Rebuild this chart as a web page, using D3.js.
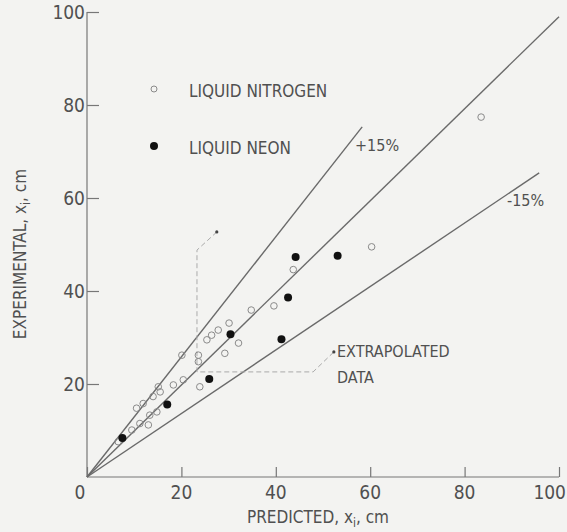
<!DOCTYPE html>
<html>
<head>
<meta charset="utf-8">
<script src="https://d3js.org/d3.v7.min.js"></script>
<style>
  body { margin: 0; background: #f3f3f1; }
  svg { display: block; background: #f3f3f1; }
  text { font-family: "DejaVu Sans Condensed", "Liberation Sans Narrow", sans-serif; fill: #505050; }
  .axis path, .axis line { stroke: #777; stroke-width: 1.2; }
  .ref { stroke: #6a6a6a; stroke-width: 1.4; fill: none; }
  .extra { stroke: #aaa; stroke-width: 1; stroke-dasharray: 5 3; fill: none; }
</style>
</head>
<body>
<div id="chart"></div>
<script>
var W = 567, H = 532;

// tick values on both axes
var xTicks = [0, 20, 40, 60, 80, 100];
var yTicks = [20, 40, 60, 80, 100];

// liquid nitrogen (open circles): [predicted, experimental]
var nitrogen = [
  [6.6, 7.6], [9.5, 10.1], [11.2, 11.5], [13, 11.2], [13.3, 13.3], [14.8, 14],
  [10.5, 14.8], [11.9, 15.8], [14, 17.3], [15.5, 18.3], [15.1, 19.4], [18.3, 19.8],
  [20.4, 20.9], [20.1, 26.2], [23.9, 19.4], [23.6, 24.8], [23.6, 26.2], [25.4, 29.5],
  [26.4, 30.5], [27.8, 31.6], [30.1, 33.1], [29.2, 26.6], [32.1, 28.8], [34.8, 35.9],
  [39.6, 36.8], [43.7, 44.6], [60.3, 49.5], [83.5, 77.4]
];

// liquid neon (filled circles)
var neon = [
  [7.5, 8.4], [17, 15.6], [25.9, 21.1], [30.4, 30.7], [41.2, 29.6],
  [42.6, 38.6], [44.2, 47.3], [53.1, 47.6]
];

// reference lines (end points)
var lineCenter = [[0, 0], [100, 99]];
var linePlus = [[0, 0], [58.3, 75.3]];
var lineMinus = [[0, 0], [95.8, 65.4]];

// extrapolated data marker (dashed outline)
var extrapBox = [[27.5, 52.7], [23.3, 48.8], [23.3, 22.6], [47.9, 22.6], [52.3, 26.9]];

var x = d3.scaleLinear().domain([0, 100]).range([87, 559]);
var y = d3.scaleLinear().domain([0, 100]).range([477, 12]);

var svg = d3.select('#chart').append('svg')
    .attr('width', W)
    .attr('height', H);

// axes, ticks pointing inward
svg.append('g')
    .attr('class', 'axis')
    .attr('transform', 'translate(0,' + y(0) + ')')
    .call(d3.axisTop(x).tickValues(xTicks).tickSize(10).tickFormat(''))
    .call(function(g) { g.select('.domain').attr('d', 'M' + x(0) + ',0H' + x(100)); });

svg.append('g')
    .attr('class', 'axis')
    .attr('transform', 'translate(' + x(0) + ',0)')
    .call(d3.axisRight(y).tickValues(yTicks).tickSize(12).tickFormat(''))
    .call(function(g) { g.select('.domain').attr('d', 'M0,' + y(0) + 'V' + y(100)); });

// tick labels
svg.selectAll('text.xt')
    .data(xTicks)
    .enter().append('text')
    .attr('class', 'xt')
    .attr('x', function(d) {
        if (d === 0) return x(0) - 7;
        if (d === 100) return W - 1;
        return x(d);
    })
    .attr('y', y(0) + 22)
    .attr('text-anchor', function(d) { return d === 100 ? 'end' : 'middle'; })
    .attr('font-size', 19)
    .text(function(d) { return d; });

svg.selectAll('text.yt')
    .data(yTicks)
    .enter().append('text')
    .attr('class', 'yt')
    .attr('x', x(0) - 2)
    .attr('y', function(d) { return y(d) + 7; })
    .attr('text-anchor', 'end')
    .attr('font-size', 19)
    .text(function(d) { return d; });

// axis titles
var xt = svg.append('text')
    .attr('x', 318)
    .attr('y', 523)
    .attr('text-anchor', 'middle')
    .attr('font-size', 17);
xt.append('tspan').text('PREDICTED, x');
xt.append('tspan').attr('font-size', 12).attr('dy', 4).text('i');
xt.append('tspan').attr('dy', -4).text(', cm');

var yt = svg.append('text')
    .attr('transform', 'translate(26,254) rotate(-90)')
    .attr('text-anchor', 'middle')
    .attr('font-size', 17);
yt.append('tspan').text('EXPERIMENTAL, x');
yt.append('tspan').attr('font-size', 12).attr('dy', 4).text('i');
yt.append('tspan').attr('dy', -4).text(', cm');

// reference lines
var line = d3.line().x(function(d) { return x(d[0]); }).y(function(d) { return y(d[1]); });
[lineCenter, linePlus, lineMinus].forEach(function(l) {
    svg.append('path').attr('class', 'ref').attr('d', line(l));
});

svg.append('text').attr('x', 355).attr('y', 151).attr('font-size', 16).text('+15%');
svg.append('text').attr('x', 507).attr('y', 206).attr('font-size', 16).text('-15%');

// extrapolated data outline
svg.append('path').attr('class', 'extra').attr('d', line(extrapBox));
[extrapBox[0], extrapBox[extrapBox.length - 1]].forEach(function(p) {
    svg.append('circle').attr('cx', x(p[0])).attr('cy', y(p[1])).attr('r', 1.6).attr('fill', '#444');
});
svg.append('text').attr('x', 337).attr('y', 357).attr('font-size', 16).text('EXTRAPOLATED');
svg.append('text').attr('x', 337).attr('y', 383).attr('font-size', 16).text('DATA');

// points
svg.selectAll('circle.n2')
    .data(nitrogen)
    .enter().append('circle')
    .attr('class', 'n2')
    .attr('cx', function(d) { return x(d[0]); })
    .attr('cy', function(d) { return y(d[1]); })
    .attr('r', 3.3)
    .attr('fill', 'none')
    .attr('stroke', '#8a8a8a')
    .attr('stroke-width', 1);

svg.selectAll('circle.ne')
    .data(neon)
    .enter().append('circle')
    .attr('class', 'ne')
    .attr('cx', function(d) { return x(d[0]); })
    .attr('cy', function(d) { return y(d[1]); })
    .attr('r', 4)
    .attr('fill', '#111');

// legend
svg.append('circle').attr('cx', 154).attr('cy', 89).attr('r', 3).attr('fill', 'none').attr('stroke', '#8a8a8a');
svg.append('text').attr('x', 189).attr('y', 97).attr('font-size', 17).text('LIQUID NITROGEN');
svg.append('circle').attr('cx', 154).attr('cy', 146).attr('r', 4).attr('fill', '#111');
svg.append('text').attr('x', 189).attr('y', 154).attr('font-size', 17).text('LIQUID NEON');
</script>
</body>
</html>
